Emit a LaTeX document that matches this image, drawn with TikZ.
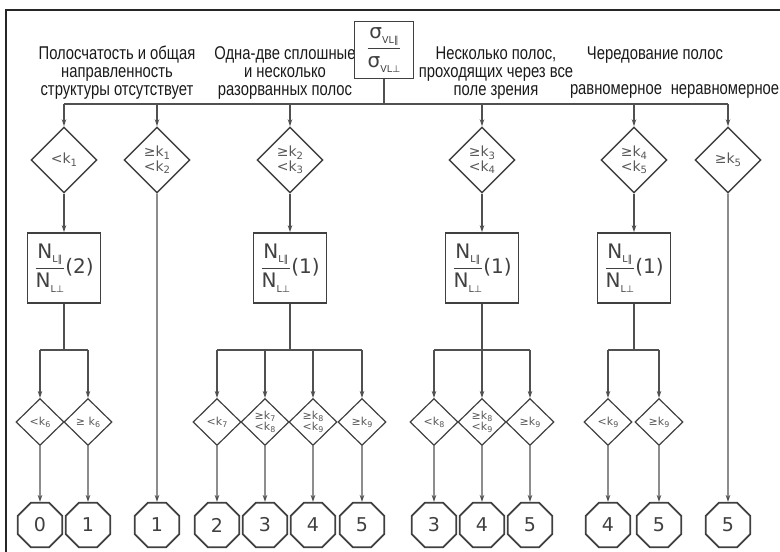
\documentclass[tikz,border=0pt]{standalone}
\usepackage{fontspec}
\setmainfont[FakeStretch=0.8]{Liberation Sans}
\newfontfamily\lab{DejaVu Sans}
\usetikzlibrary{shapes.geometric,arrows.meta}
\definecolor{ln}{HTML}{505050}
\definecolor{bd}{HTML}{404040}
\definecolor{tx}{HTML}{1a1a1a}
\definecolor{gl}{HTML}{585858}
\newcommand\sbs[1]{\raisebox{-0.45ex}{\fontsize{9.5}{9}\selectfont #1}}
\newcommand\fr[2]{$\displaystyle{\hbox{#1}\above 0.9pt\hbox{#2}}$}
\newcommand\ks[1]{k\raisebox{-0.35ex}{\scalebox{0.72}{#1}}}
\begin{document}
\begin{tikzpicture}[x=1pt,y=-1pt,
 hdr/.style={text=tx, font=\fontsize{18.5}{18}\selectfont, align=center, inner sep=0},
 topbox/.style={draw=bd, line width=1.7pt, minimum width=59pt, minimum height=57pt, inner sep=0, font=\lab\fontsize{20}{20}\selectfont, text=bd},
 nbox/.style={draw=bd, line width=1.7pt, minimum width=73pt, minimum height=70pt, inner sep=0, font=\lab\fontsize{20}{20}\selectfont, text=bd},
 bigd/.style={diamond, draw=bd, line width=1.4pt, minimum width=66pt, minimum height=66pt, inner sep=0, font=\lab\fontsize{14}{13}\selectfont, text=gl, align=center},
 smalld/.style={diamond, draw=bd, line width=1.2pt, minimum width=48pt, minimum height=47pt, inner sep=0, font=\lab\fontsize{11}{9.5}\selectfont, text=gl, align=center},
 oct/.style={regular polygon, regular polygon sides=8, draw=bd, line width=1.8pt, minimum size=48pt, inner sep=0, font=\lab\fontsize{19}{19}\selectfont, text=bd},
 conn/.style={draw=ln, line width=1.3pt},
 arr/.style={conn, -{Stealth[length=7pt,width=4.5pt]}},
]
\useasboundingbox (0,0) rectangle (780,552);
% frame
\draw[draw=black!85, line width=1.5pt] (6,552) -- (6,10) -- (780,10);

% headers
\node[hdr] (h1) at (117,73) {Полосчатость и общая\\направленность\\структуры отсутствует};
\node[hdr] (h2) at (285,73) {Одна-две сплошные\\и несколько\\разорванных полос};
\node[hdr] (h3) at (496,73) {Несколько полос,\\проходящих через все\\поле зрения};
\node[hdr] (h4) at (655,55) {Чередование полос};
\node[hdr] (h5) at (616,91) {равномерное};
\node[hdr] (h6) at (725,91) {неравномерное};

% top box
\node[topbox] (top) at (384,50) {\fr{σ\sbs{VL∥}}{σ\sbs{VL⊥}}};
\coordinate (busy) at (0,104);
\coordinate (sb) at (0,350);

% big diamonds
\node[bigd] (D1) at (64,160) {<\ks{1}};
\node[bigd] (D2) at (157,160) {≥\ks{1}\\<\ks{2}};
\node[bigd] (D3) at (290,160) {≥\ks{2}\\<\ks{3}};
\node[bigd] (D4) at (482,160) {≥\ks{3}\\<\ks{4}};
\node[bigd] (D5) at (634,160) {≥\ks{4}\\<\ks{5}};
\node[bigd] (D6) at (728,160) {≥\ks{5}};

% N boxes
\node[nbox] (B1) at (64,268) {\fr{N\sbs{L∥}}{N\sbs{L⊥}}(2)};
\node[nbox] (B3) at (290,268) {\fr{N\sbs{L∥}}{N\sbs{L⊥}}(1)};
\node[nbox] (B4) at (482,268) {\fr{N\sbs{L∥}}{N\sbs{L⊥}}(1)};
\node[nbox] (B5) at (634,268) {\fr{N\sbs{L∥}}{N\sbs{L⊥}}(1)};

% small diamonds
\node[smalld] (s11) at (40,422) {<\ks{6}};
\node[smalld] (s12) at (88,422) {≥ \ks{6}};
\node[smalld] (s31) at (217,422) {<\ks{7}};
\node[smalld] (s32) at (265,422) {≥\ks{7}\\<\ks{8}};
\node[smalld] (s33) at (313,422) {≥\ks{8}\\<\ks{9}};
\node[smalld] (s34) at (362,422) {≥\ks{9}};
\node[smalld] (s41) at (434,422) {<\ks{8}};
\node[smalld] (s42) at (482,422) {≥\ks{8}\\<\ks{9}};
\node[smalld] (s43) at (530,422) {≥\ks{9}};
\node[smalld] (s51) at (608,422) {<\ks{9}};
\node[smalld] (s52) at (659,422) {≥\ks{9}};

% octagons
\node[oct] (o11) at (40,525) {0};
\node[oct] (o12) at (88,525) {1};
\node[oct] (o2) at (157,525) {1};
\node[oct] (o31) at (217,525) {2};
\node[oct] (o32) at (265,525) {3};
\node[oct] (o33) at (313,525) {4};
\node[oct] (o34) at (362,525) {5};
\node[oct] (o41) at (434,525) {3};
\node[oct] (o42) at (482,525) {4};
\node[oct] (o43) at (530,525) {5};
\node[oct] (o51) at (608,525) {4};
\node[oct] (o52) at (659,525) {5};
\node[oct] (o6) at (728,525) {5};

% main bus
\draw[conn] (top.south) -- (top.south |- busy);
\draw[conn] (D1 |- busy) -- (D6 |- busy);
\foreach \d in {D1,D2,D3,D4,D5,D6}
  \draw[arr] (\d |- busy) -- (\d.north);

% diamonds to boxes / octagons
\foreach \d/\b in {D1/B1,D3/B3,D4/B4,D5/B5}
  \draw[arr] (\d.south) -- (\b.north);
\draw[arr] (D2.south) -- (o2.north);
\draw[arr] (D6.south) -- (o6.north);

% sub buses
\foreach \b/\l/\r in {B1/s11/s12,B3/s31/s34,B4/s41/s43,B5/s51/s52}{
  \draw[conn] (\b.south) -- (\b |- sb);
  \draw[conn] (\l |- sb) -- (\r |- sb);
}
\foreach \s/\o in {s11/o11,s12/o12,s31/o31,s32/o32,s33/o33,s34/o34,s41/o41,s42/o42,s43/o43,s51/o51,s52/o52}{
  \draw[arr] (\s |- sb) -- (\s.north);
  \draw[arr] (\s.south) -- (\o.north);
}
\end{tikzpicture}
\end{document}
